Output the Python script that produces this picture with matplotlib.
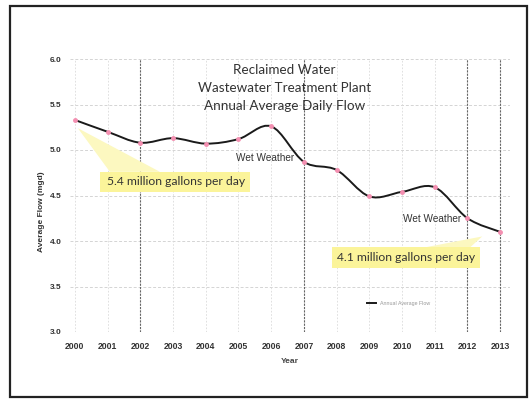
#Reclaimed Water - annual average daily flow chart
import numpy as np
import matplotlib.pyplot as plt
from matplotlib.path import Path
from matplotlib.patches import PathPatch, Rectangle, Polygon
from matplotlib.lines import Line2D

#data
years = [2000, 2001, 2002, 2003, 2004, 2005, 2006, 2007, 2008, 2009, 2010, 2011, 2012, 2013]
flow = [5.33, 5.20, 5.08, 5.13, 5.07, 5.12, 5.26, 4.87, 4.78, 4.49, 4.54, 4.59, 4.25, 4.10]
yticks = [3.0, 3.5, 4.0, 4.5, 5.0, 5.5, 6.0]
dark_years = [2002, 2007, 2012, 2013]   #gridlines that came out darker in the scan
title_lines = ['Reclaimed Water', 'Wastewater Treatment Plant', 'Annual Average Daily Flow']

#smoothed line like excel (catmull-rom turned into bezier segments)
def smooth_path(x, y):
    x = np.asarray(x, float)
    y = np.asarray(y, float)
    n = len(x)
    verts = [(x[0], y[0])]
    codes = [Path.MOVETO]
    for i in range(n-1):
        i0 = max(i-1, 0)
        i3 = min(i+2, n-1)
        c1 = (x[i] + (x[i+1]-x[i0])/6, y[i] + (y[i+1]-y[i0])/6)
        c2 = (x[i+1] - (x[i3]-x[i])/6, y[i+1] - (y[i3]-y[i])/6)
        verts += [c1, c2, (x[i+1], y[i+1])]
        codes += [Path.CURVE4]*3
    return Path(verts, codes)

plt.rcParams['font.family'] = ['Liberation Sans', 'DejaVu Sans']
fig = plt.figure(figsize=(5.29, 4.03), dpi=100)
fig.patch.set_facecolor('white')
ax = fig.add_axes([70/529, 1-332/403, 440/529, 273/403])
ax.set_xlim(1999.85, 2013.3)
ax.set_ylim(3.0, 6.0)

#grid
for yv in yticks[1:]:
    ax.axhline(yv, color='#d4d4d4', lw=0.7, ls=(0, (3, 2)), zorder=0)
for xv in years:
    if xv in dark_years:
        ax.axvline(xv, color='#666666', lw=0.8, ls=(0, (2, 1)), zorder=0)
    else:
        ax.axvline(xv, color='#dadada', lw=0.6, ls=(0, (2, 2)), zorder=0)

#the flow line
ax.add_patch(PathPatch(smooth_path(years, flow), fc='none', ec='#1a1a1a', lw=1.4, zorder=3))
ax.plot(years, flow, ls='none', marker='o', ms=2.5, mfc='#f48fb1', mec='#f48fb1', zorder=4)

for s in ax.spines.values():
    s.set_visible(False)
ax.set_xticks(years)
ax.set_yticks(yticks)
ax.set_xticklabels([str(y) for y in years], fontsize=6.2, fontweight='bold', color='#333333')
ax.set_yticklabels(['%.1f' % v for v in yticks], fontsize=6, fontweight='bold', color='#333333')
ax.tick_params(axis='both', length=0)
ax.tick_params(axis='x', pad=7)
ax.tick_params(axis='y', pad=6)
ax.set_xlabel('Year', fontsize=6, fontweight='bold', color='#444444', labelpad=5)
ax.set_ylabel('Average Flow (mgd)', fontsize=6, fontweight='bold', color='#333333')
ax.yaxis.set_label_coords(-0.057, 0.44)

#title
ax.text(0.487, 0.98, '\n'.join(title_lines), transform=ax.transAxes, ha='center', va='top',
        fontsize=9.7, family=['Lato', 'DejaVu Sans'], color='#333333', linespacing=1.6)

#callouts
ax.add_patch(Polygon([(2000.09, 5.24), (2001.07, 4.76), (2002.6, 4.76)], closed=True,
                     fc='#fcf8c0', ec='none', zorder=1))
ax.add_patch(Rectangle((2000.77, 4.54), 4.58, 0.22, fc='#fbf49a', ec='none', zorder=2))
ax.text(2000.98, 4.65, '5.4 million gallons per day', fontsize=8.7, family=['Lato', 'DejaVu Sans'],
        color='#333333', va='center', ha='left', zorder=5)
ax.add_patch(Polygon([(2010.7, 3.93), (2012.08, 3.93), (2012.45, 4.05)], closed=True,
                     fc='#fcf8c0', ec='none', zorder=1))
ax.add_patch(Rectangle((2007.86, 3.70), 4.53, 0.23, fc='#fbf49a', ec='none', zorder=2))
ax.text(2008.01, 3.815, '4.1 million gallons per day', fontsize=8.7, family=['Lato', 'DejaVu Sans'],
        color='#333333', va='center', ha='left', zorder=5)
ax.text(2005.81, 4.91, 'Wet Weather', fontsize=7.2, color='#333333', ha='center', va='center', zorder=5)
ax.text(2010.92, 4.24, 'Wet Weather', fontsize=7.2, color='#333333', ha='center', va='center', zorder=5)

#legend
h = [Line2D([0], [0], color='#1a1a1a', lw=1.4)]
ax.legend(h, ['Annual Average Flow'], loc='center left', bbox_to_anchor=(0.665, 0.106),
          frameon=False, fontsize=3.8, handlelength=1.6, labelcolor='#999999')

#outer frame
fig.add_artist(Rectangle((10/529, 1-397/403), 517/529, 391/403, transform=fig.transFigure,
                         fc='none', ec='#222222', lw=1.6))

fig.savefig('out.png', dpi=100, facecolor='white')
